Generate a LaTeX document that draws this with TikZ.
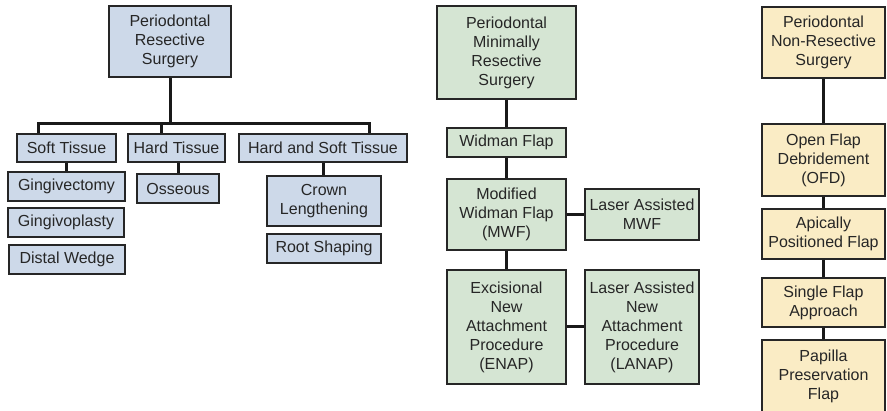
\documentclass[tikz,border=0pt]{standalone}
\usepackage{fontspec}
\setmainfont{Liberation Sans}
\usepackage{xcolor}
\usepackage{tikz}
\usetikzlibrary{positioning}
\definecolor{resblue}{RGB}{205,217,233}
\definecolor{mingreen}{RGB}{213,229,211}
\definecolor{nonyellow}{RGB}{250,236,197}
\definecolor{edgegray}{RGB}{38,38,38}
\tikzset{
    surgbox/.style={
        draw=edgegray,
        line width=1.6pt,
        align=center,
        inner sep=0pt,
        text=black!85,
        font=\fontsize{16}{19}\selectfont
    },
    resbox/.style={surgbox, fill=resblue},
    minbox/.style={surgbox, fill=mingreen},
    nonbox/.style={surgbox, fill=nonyellow},
    conn/.style={
        draw=black!90,
        line width=3pt
    }
}

\begin{document}
\begin{tikzpicture}[x=1pt,y=-1pt]
        \useasboundingbox (0,0) rectangle (887,411);

        % resective column
        \node[resbox, minimum width=122, minimum height=71] (res) at (170,41.5) {Periodontal\\Resective\\Surgery};
        \node[resbox, minimum width=99, minimum height=28] (soft) at (66.5,148) {Soft Tissue};
        \node[resbox, minimum width=97, minimum height=28] (hard) at (176.5,148) {Hard Tissue};
        \node[resbox, minimum width=168, minimum height=28] (hardsoft) at (323,148) {Hard and Soft Tissue};
        \node[resbox, minimum width=117, minimum height=29] (gecto) at (66.5,186.5) {Gingivectomy};
        \node[resbox, minimum width=116, minimum height=29] (gplasty) at (66,222.5) {Gingivoplasty};
        \node[resbox, minimum width=116, minimum height=29] (wedge) at (67,259.5) {Distal Wedge};
        \node[resbox, minimum width=82, minimum height=29] (osseous) at (178,188.5) {Osseous};
        \node[resbox, minimum width=114, minimum height=50] (crown) at (324,201) {Crown\\Lengthening};
        \node[resbox, minimum width=114, minimum height=29] (rootsh) at (324,248.5) {Root Shaping};

        % draw bus
        \coordinate (b1) at (38,124);
        \coordinate (b2) at (161,124);
        \coordinate (b3) at (369,124);
        \draw[conn] (b1 |- soft.north) -- (b1) -- (b3) -- (b3 |- hardsoft.north);
        \draw[conn] (res.south) -- (res.south |- b1);
        \draw[conn] (b2) -- (b2 |- hard.north);
        \draw[conn] (soft.south) -- (soft.south |- gecto.north);
        \draw[conn] (hard.south -| osseous.north) -- (osseous.north);
        \draw[conn] (hardsoft.south) -- (hardsoft.south |- crown.north);

        % minimally resective column
        \node[minbox, minimum width=139, minimum height=93] (minres) at (506.5,52.5) {Periodontal\\Minimally\\Resective\\Surgery};
        \node[minbox, minimum width=119, minimum height=29] (widman) at (506.5,142.5) {Widman Flap};
        \node[minbox, minimum width=119, minimum height=71] (mwf) at (506.5,214.5) {Modified\\Widman Flap\\(MWF)};
        \node[minbox, minimum width=114, minimum height=51] (lmwf) at (642,214.5) {Laser Assisted\\MWF};
        \node[minbox, minimum width=119, minimum height=114] (enap) at (506.5,327) {Excisional\\New\\Attachment\\Procedure\\(ENAP)};
        \node[minbox, minimum width=114, minimum height=114] (lanap) at (642,327) {Laser Assisted\\New\\Attachment\\Procedure\\(LANAP)};

        \draw[conn] (minres) -- (widman);
        \draw[conn] (widman) -- (mwf);
        \draw[conn] (mwf) -- (enap);
        \draw[conn] (mwf) -- (lmwf);
        \draw[conn] (enap) -- (lanap);

        % non-resective column
        \node[nonbox, minimum width=123, minimum height=71] (nonres) at (823.5,42.5) {Periodontal\\Non-Resective\\Surgery};
        \node[nonbox, minimum width=123, minimum height=72] (ofd) at (823.5,160) {Open Flap\\Debridement\\(OFD)};
        \node[nonbox, minimum width=123, minimum height=50] (apf) at (823.5,234) {Apically\\Positioned Flap};
        \node[nonbox, minimum width=123, minimum height=49] (sfa) at (823.5,302.5) {Single Flap\\Approach};
        \node[nonbox, minimum width=123, minimum height=72] (ppf) at (823.5,376) {Papilla\\Preservation\\Flap};

        \foreach \a/\b in {nonres/ofd, ofd/apf, apf/sfa, sfa/ppf}
        {
            \draw[conn] (\a) -- (\b);
        }
    \end{tikzpicture}
\end{document}
